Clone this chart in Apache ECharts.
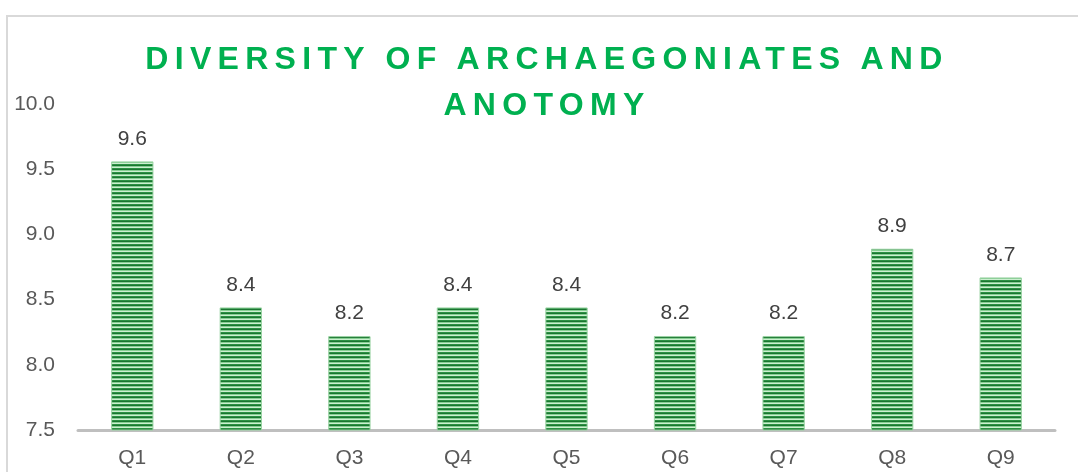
<!DOCTYPE html>
<html>
<head>
<meta charset="utf-8">
<script src="https://cdn.jsdelivr.net/npm/echarts@6/dist/echarts.min.js"></script>
<style>
    html, body { margin: 0; padding: 0; background: #fff; overflow: hidden; }
    #frame {
        position: absolute; left: 6px; top: 15px; width: 1200px; height: 600px;
        border-left: 2px solid #d9d9d9; border-top: 2px solid #d9d9d9;
    }
    #chart { position: absolute; left: 0; top: 0; width: 1078px; height: 472px; }
    #title {
        position: absolute; left: 547px; top: 35px; transform: translateX(-50%);
        font-family: "Liberation Sans", Arial, sans-serif; font-weight: bold;
        font-size: 32px; line-height: 46px; letter-spacing: 6.3px;
        color: #00b050; text-align: center; white-space: nowrap;
    }
</style>
</head>
<body>
<div id="frame"></div>
<div id="chart"></div>
<div id="title">DIVERSITY OF ARCHAEGONIATES AND<br>ANOTOMY</div>
<script>
let categories = ['Q1', 'Q2', 'Q3', 'Q4', 'Q5', 'Q6', 'Q7', 'Q8', 'Q9']
let scores = [9.56, 8.44, 8.22, 8.44, 8.44, 8.22, 8.22, 8.89, 8.67]
let yTicks = [7.5, 8.0, 8.5, 9.0, 9.5, 10.0]

// horizontal stripes like the office "pattern fill"
function stripePattern() {
    let c = document.createElement('canvas')
    c.width = 4
    c.height = 4
    let ctx = c.getContext('2d')
    let rows = ['#2b9142', '#1b7531', '#86cf92', '#cdeed1']
    for (let i = 0; i < rows.length; i++) {
        ctx.fillStyle = rows[i]
        ctx.fillRect(0, i, 4, 1)
    }
    return c
}

window.onload = function () {
    let chart = echarts.init(document.querySelector('#chart'))
    let font = '"Liberation Sans", Arial, sans-serif'
    let option = {
        animation: false,
        grid: { left: 78, right: 23, top: 104, bottom: 42 },
        xAxis: {
            type: 'category',
            data: categories,
            axisLine: { lineStyle: { color: '#bfbfbf', width: 3 } },
            axisTick: { show: false },
            axisLabel: { color: '#595959', fontSize: 21, fontFamily: font, margin: 18 }
        },
        yAxis: {
            type: 'value',
            min: yTicks[0],
            max: yTicks[yTicks.length - 1],
            interval: 0.5,
            axisLine: { show: false },
            axisTick: { show: false },
            splitLine: { show: false },
            axisLabel: {
                color: '#595959', fontSize: 21, fontFamily: font, margin: 23,
                formatter: function (v) { return v.toFixed(1) }
            }
        },
        series: [
            {
                type: 'bar',
                data: scores,
                barWidth: '39%',
                itemStyle: {
                    color: { image: stripePattern(), repeat: 'repeat' },
                    borderColor: '#9ad3a3',
                    borderWidth: 1
                },
                label: {
                    show: true,
                    position: 'top',
                    distance: 12,
                    color: '#404040',
                    fontSize: 21,
                    fontFamily: font,
                    formatter: function (p) { return p.value.toFixed(1) }
                }
            }
        ]
    }
    chart.setOption(option)
}
</script>
</body>
</html>
